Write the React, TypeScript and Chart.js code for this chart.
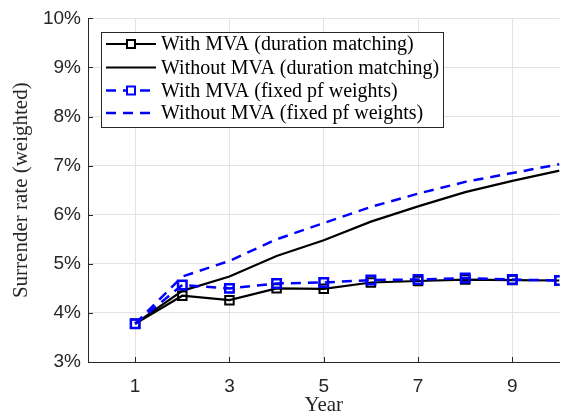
import React, { useEffect, useRef } from 'react';
import { Chart, registerables } from 'chart.js';

Chart.register(...registerables);

const years = [1, 2, 3, 4, 5, 6, 7, 8, 9, 10];
const withMvaDuration = [3.78, 4.35, 4.26, 4.5, 4.49, 4.62, 4.65, 4.68, 4.67, 4.66];
const withoutMvaDuration = [3.78, 4.45, 4.74, 5.16, 5.48, 5.86, 6.17, 6.46, 6.69, 6.9];
const withMvaFixed = [3.78, 4.57, 4.5, 4.6, 4.62, 4.67, 4.68, 4.71, 4.68, 4.66];
const withoutMvaFixed = [3.78, 4.74, 5.06, 5.5, 5.83, 6.16, 6.43, 6.67, 6.85, 7.03];
const xTickValues = [1, 3, 5, 7, 9];
const seriesLabels = [
  'With MVA (duration matching)',
  'Without MVA (duration matching)',
  'With MVA (fixed pf weights)',
  'Without MVA (fixed pf weights)',
];

const AXIS = '#262626';
const GRID = '#e3e3e3';
const BLUE = '#0000ff';
const SERIF = '"Liberation Serif", "Times New Roman", serif';
const SANS = '"Liberation Sans", Arial, sans-serif';

const toPoints = (ys: number[]) => years.map((x, i) => ({ x, y: ys[i] }));

const inwardTicks = {
  id: 'inwardTicks',
  afterDraw(chart: any) {
    const { ctx, chartArea, scales } = chart;
    ctx.save();
    ctx.strokeStyle = AXIS;
    ctx.lineWidth = 1;
    ctx.beginPath();
    scales.y.ticks.forEach((t: any) => {
      const y = Math.round(scales.y.getPixelForValue(t.value)) + 0.5;
      ctx.moveTo(chartArea.left, y);
      ctx.lineTo(chartArea.left + 5, y);
    });
    scales.x.ticks.forEach((t: any) => {
      const x = Math.round(scales.x.getPixelForValue(t.value)) + 0.5;
      ctx.moveTo(x, chartArea.bottom);
      ctx.lineTo(x, chartArea.bottom - 5);
    });
    ctx.stroke();
    ctx.restore();
  },
};

const boxLegend = {
  id: 'boxLegend',
  afterDraw(chart: any) {
    const ctx = chart.ctx;
    const ds = chart.data.datasets;
    const x0 = 101.5;
    const y0 = 32.5;
    const w = 342;
    const h = 95;
    ctx.save();
    ctx.fillStyle = '#ffffff';
    ctx.fillRect(x0, y0, w, h);
    ctx.strokeStyle = AXIS;
    ctx.lineWidth = 1;
    ctx.strokeRect(x0, y0, w, h);
    const rowY = [44, 67.5, 90.5, 113];
    ds.forEach((d: any, i: number) => {
      const y = rowY[i];
      ctx.save();
      ctx.strokeStyle = d.borderColor;
      ctx.lineWidth = d.borderWidth;
      ctx.setLineDash(d.borderDash || []);
      ctx.beginPath();
      ctx.moveTo(106, y);
      ctx.lineTo(156, y);
      ctx.stroke();
      ctx.setLineDash([]);
      if (d.pointRadius > 0) {
        const s = 8;
        ctx.fillStyle = '#ffffff';
        ctx.lineWidth = 2;
        ctx.strokeStyle = d.pointBorderColor;
        ctx.fillRect(131 - s / 2, y - s / 2, s, s);
        ctx.strokeRect(131 - s / 2, y - s / 2, s, s);
      }
      ctx.restore();
      ctx.fillStyle = '#000000';
      ctx.font = `20px ${SERIF}`;
      ctx.textBaseline = 'middle';
      ctx.textAlign = 'left';
      ctx.fillText(seriesLabels[i], 161, y + 1);
    });
    ctx.restore();
  },
};

export default function App() {
  const canvasRef = useRef<HTMLCanvasElement | null>(null);

  useEffect(() => {
    document.body.style.margin = '0';
    const canvas = canvasRef.current;
    if (!canvas) return;
    const chart = new Chart(canvas, {
      type: 'line',
      data: {
        datasets: [
          {
            label: seriesLabels[0],
            data: toPoints(withMvaDuration),
            borderColor: '#000000',
            borderWidth: 2.2,
            pointStyle: 'rect',
            pointRadius: 6,
            pointBorderWidth: 2,
            pointBorderColor: '#000000',
            pointBackgroundColor: 'rgba(255,255,255,0)',
            order: 1,
          },
          {
            label: seriesLabels[1],
            data: toPoints(withoutMvaDuration),
            borderColor: '#000000',
            borderWidth: 2.2,
            pointRadius: 0,
            order: 1,
          },
          {
            label: seriesLabels[2],
            data: toPoints(withMvaFixed),
            borderColor: BLUE,
            borderWidth: 2.5,
            borderDash: [10, 7],
            pointStyle: 'rect',
            pointRadius: 6,
            pointBorderWidth: 2.5,
            pointBorderColor: BLUE,
            pointBackgroundColor: 'rgba(255,255,255,0)',
            order: 0,
          },
          {
            label: seriesLabels[3],
            data: toPoints(withoutMvaFixed),
            borderColor: BLUE,
            borderWidth: 2.5,
            borderDash: [10, 7],
            pointRadius: 0,
            order: 0,
          },
        ],
      },
      options: {
        animation: false,
        responsive: false,
        layout: { padding: { top: 18, right: 7, left: 0, bottom: 0 } },
        plugins: { legend: { display: false }, tooltip: { enabled: false } },
        elements: { line: { tension: 0 } },
        scales: {
          x: {
            type: 'linear',
            min: 0,
            max: 10,
            afterBuildTicks: (scale: any) => {
              scale.ticks = xTickValues.map((v) => ({ value: v }));
            },
            afterFit: (scale: any) => {
              scale.height = 54;
            },
            grid: { color: GRID, drawTicks: false },
            border: { display: true, color: AXIS, width: 1 },
            ticks: {
              font: { family: SANS, size: 19 },
              color: AXIS,
              padding: 13,
              maxRotation: 0,
              autoSkip: false,
            },
            title: {
              display: true,
              text: 'Year',
              font: { family: SERIF, size: 21, lineHeight: 1 },
              color: AXIS,
              padding: { top: 0, bottom: 0 },
            },
          },
          y: {
            type: 'linear',
            min: 3,
            max: 10,
            afterFit: (scale: any) => {
              scale.width = 88;
            },
            grid: { color: GRID, drawTicks: false },
            border: { display: true, color: AXIS, width: 1 },
            ticks: {
              stepSize: 1,
              font: { family: SANS, size: 19 },
              color: AXIS,
              padding: 7,
              callback: (v: any) => `${v}%`,
            },
            title: {
              display: true,
              text: 'Surrender rate (weighted)',
              font: { family: SERIF, size: 21, lineHeight: 1 },
              color: AXIS,
              padding: { top: 11, bottom: 0 },
            },
          },
        },
      },
      plugins: [inwardTicks, boxLegend],
    } as any);
    return () => chart.destroy();
  }, []);

  return (
    <div style={{ width: 568, height: 416 }}>
      <canvas ref={canvasRef} width={568} height={416} style={{ display: 'block' }} />
    </div>
  );
}
